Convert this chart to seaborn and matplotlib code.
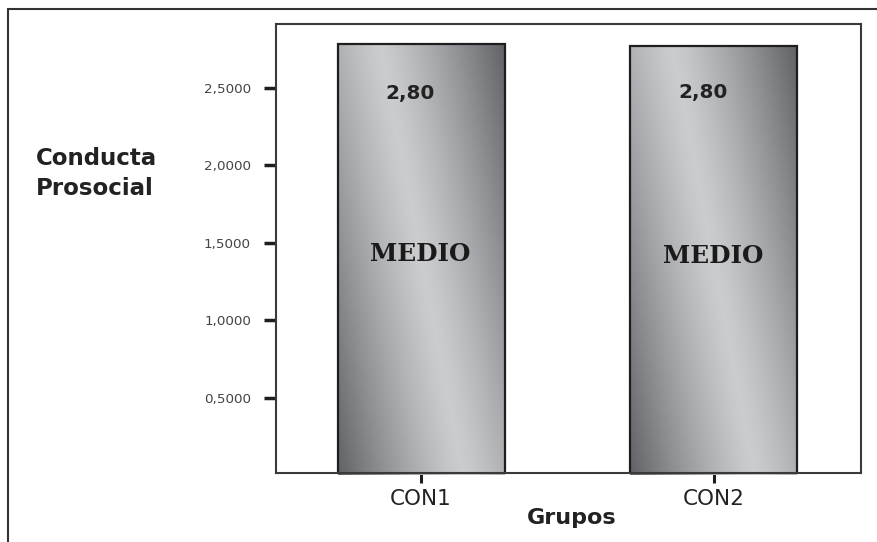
import numpy as np
import pandas as pd
import matplotlib
matplotlib.use("Agg")
import matplotlib.pyplot as plt
from matplotlib.colors import LinearSegmentedColormap
from matplotlib.lines import Line2D
import seaborn as sns

# ---- data ----
groups = ["CON1", "CON2"]
means = [2.78, 2.77]
value_labels = ["2,80", "2,80"]
level_labels = ["MEDIO", "MEDIO"]
y_ticks = [0.5, 1.0, 1.5, 2.0, 2.5]
y_tick_labels = ["0,5000", "1,0000", "1,5000", "2,0000", "2,5000"]
x_title = "Grupos"
y_title = "Conducta\nProsocial"

df = pd.DataFrame({"grupo": groups, "media": means})

sns.set_style("white")
plt.rcParams["font.family"] = ["DejaVu Sans"]

fig = plt.figure(figsize=(8.77, 5.42), dpi=100)
ax = fig.add_axes([0.3147, 0.1273, 0.6671, 0.8284])

sns.barplot(data=df, x="grupo", y="media", color="#999999", width=0.57,
            edgecolor="#1e1e1e", linewidth=1.6, ax=ax, errorbar=None)

# gradient fill inside each bar
cmap = LinearSegmentedColormap.from_list("metal", ["#5b5d61", "#cbccce"])
nx, ny = 200, 400
xf = np.linspace(0, 1, nx)[None, :]
tf = np.linspace(0, 1, ny)[:, None]
u = xf - (0.25 + 0.5 * tf)
grad = 1.0 - np.clip(np.abs(u) / 0.78, 0, 1) ** 1.25
for p in ax.patches:
    x0, y0 = p.get_x(), p.get_y()
    w, h = p.get_width(), p.get_height()
    im = ax.imshow(grad, cmap=cmap, vmin=0, vmax=1, origin="upper",
                   extent=(x0, x0 + w, y0, y0 + h), aspect="auto",
                   zorder=p.get_zorder() + 0.1, interpolation="bilinear")
    im.set_clip_path(p)
    p.set_facecolor("none")
    p.set_zorder(p.get_zorder() + 0.2)

ax.set_xlim(-0.495, 1.502)
ax.set_ylim(0.015, 2.91)

ax.set_yticks(y_ticks)
ax.set_yticklabels(y_tick_labels)
ax.tick_params(axis="y", length=8.6, width=2.5, pad=9.4, labelsize=9.7,
               color="#1e1e1e", labelcolor="#444444", direction="out", left=True)
ax.tick_params(axis="x", length=7.2, width=2.2, pad=4, labelsize=15.5,
               color="#1e1e1e", labelcolor="#222222", direction="out", bottom=True)

for s in ax.spines.values():
    s.set_visible(True)
    s.set_color("#3a3a3a")
    s.set_linewidth(1.5)

ax.set_xlabel(x_title, fontsize=16, fontweight="bold", color="#222222")
ax.xaxis.set_label_coords(0.505, -0.078)
ax.set_ylabel("")

fig.text(36 / 877, 1 - 165 / 542, y_title.split("\n")[0], fontsize=16.5,
         fontweight="bold", color="#222222", ha="left", va="baseline")
fig.text(36 / 877, 1 - 195 / 542, y_title.split("\n")[1], fontsize=16.5,
         fontweight="bold", color="#222222", ha="left", va="baseline")

val_y = [2.427, 2.434]
lvl_y = [1.381, 1.368]
for i, p in enumerate(ax.patches[:len(groups)]):
    cx = p.get_x() + p.get_width() / 2
    ax.text(cx - 0.0375, val_y[i], value_labels[i], ha="center", va="baseline",
            fontsize=14.4, fontweight="bold", color="#222222", zorder=5)
    ax.text(cx - 0.004, lvl_y[i], level_labels[i], ha="center", va="baseline",
            fontsize=17.8, fontweight="bold", family="DejaVu Serif",
            color="#1a1a1a", zorder=5)

# outer frame (partial, as in the reference)
fx, fy = 8 / 877, 1 - 9 / 542
fig.add_artist(Line2D([fx, fx], [0, fy], transform=fig.transFigure,
                      color="#333333", lw=1.5))
fig.add_artist(Line2D([fx, 1], [fy, fy], transform=fig.transFigure,
                      color="#333333", lw=1.5))

fig.savefig("out.png", dpi=100, facecolor="white")
